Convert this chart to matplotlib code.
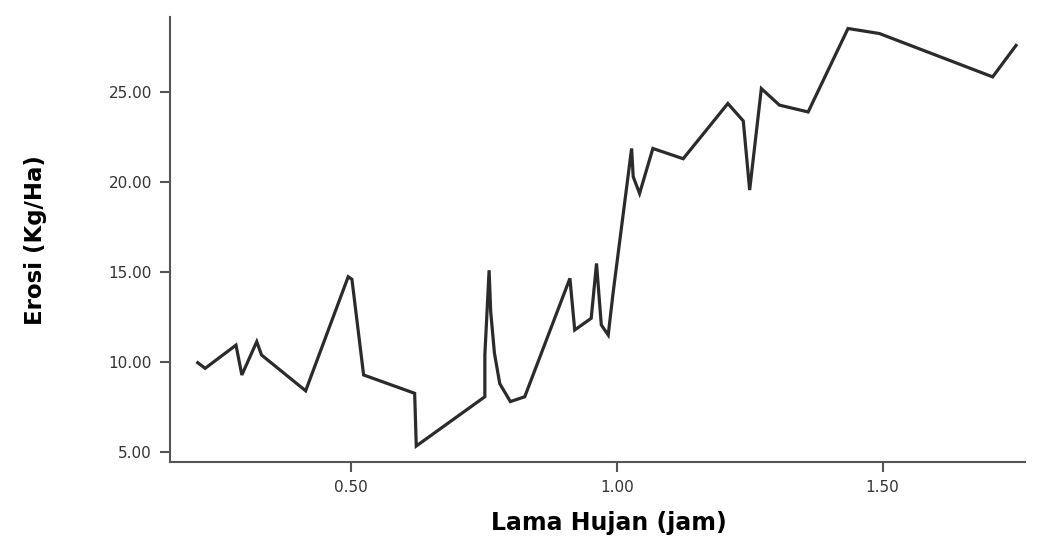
import numpy as np
import matplotlib
matplotlib.use("Agg")
import matplotlib.pyplot as plt

# Lama hujan (jam) vs Erosi (Kg/Ha)
lama_hujan = [0.212, 0.226, 0.284, 0.295, 0.323, 0.332, 0.415, 0.495, 0.502, 0.524,
              0.620, 0.623, 0.752, 0.752, 0.760, 0.763, 0.770, 0.780, 0.800, 0.827,
              0.912, 0.921, 0.952, 0.962, 0.971, 0.984, 0.993, 1.028, 1.031, 1.043,
              1.068, 1.125, 1.209, 1.238, 1.250, 1.272, 1.306, 1.360, 1.435, 1.494,
              1.707, 1.751]
erosi = [9.96, 9.65, 10.94, 9.28, 11.13, 10.39, 8.40, 14.74, 14.60, 9.28,
         8.26, 5.33, 8.07, 10.39, 15.10, 12.80, 10.50, 8.80, 7.80, 8.07,
         14.65, 11.78, 12.43, 15.48, 12.06, 11.50, 13.80, 21.87, 20.30, 19.37,
         21.87, 21.30, 24.37, 23.40, 19.56, 25.20, 24.28, 23.90, 28.54, 28.26,
         25.85, 27.60]

x_ticks = [0.5, 1.0, 1.5]
y_ticks = [5, 10, 15, 20, 25]

fig = plt.figure(figsize=(10.37, 5.36), dpi=100)
ax = fig.add_axes([0.164, 0.138, 0.824, 0.830])

ax.plot(lama_hujan, erosi, color="#2b2b2b", linewidth=2.3, solid_joinstyle="miter")

ax.set_xlim(0.16, 1.767)
ax.set_ylim(4.44, 29.17)
ax.set_xticks(x_ticks)
ax.set_yticks(y_ticks)
ax.set_xticklabels([f"{t:.2f}" for t in x_ticks])
ax.set_yticklabels([f"{t:.2f}" for t in y_ticks])

for side in ["top", "right"]:
    ax.spines[side].set_visible(False)
for side in ["left", "bottom"]:
    ax.spines[side].set_color("#555555")
    ax.spines[side].set_linewidth(1.5)

ax.tick_params(axis="both", direction="out", length=7, width=1.5, color="#555555",
               labelsize=11, labelcolor="#333333", pad=6)

ax.set_xlabel("Lama Hujan (jam)", fontsize=17, fontweight="bold")
ax.set_ylabel("Erosi (Kg/Ha)", fontsize=16.5, fontweight="bold")
ax.xaxis.set_label_coords(0.513, -0.11)
ax.yaxis.set_label_coords(-0.144, 0.5)

fig.savefig("out.png", dpi=100, facecolor="white")
